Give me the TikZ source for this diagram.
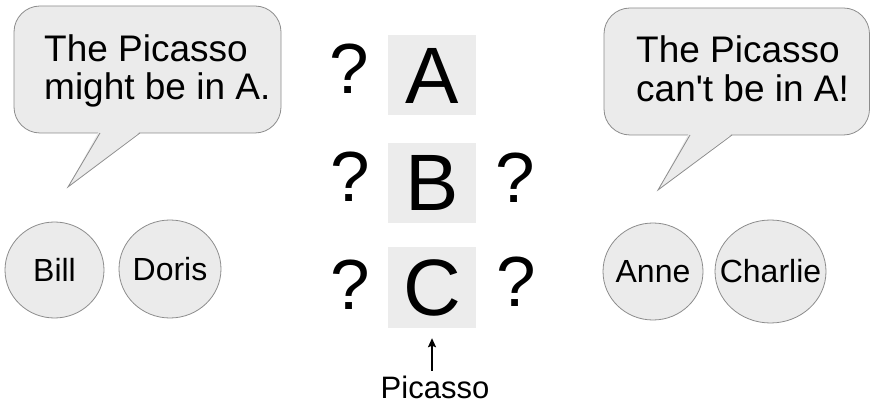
\documentclass[tikz,border=0pt]{standalone}
\usepackage{fontspec}
\setmainfont{Liberation Sans}[Ligatures=TeXOff]
\usetikzlibrary{shapes.geometric,arrows.meta}
\definecolor{bubblefill}{HTML}{EBEBEB}
\definecolor{edgegray}{HTML}{8C8C8C}
\definecolor{boxfill}{HTML}{ECECEC}
\newcommand{\pname}[1]{\makebox[0pt][c]{#1}}
\begin{document}
\begin{tikzpicture}[x=1pt,y=-1pt,
  bubble/.style={fill=bubblefill,draw=edgegray,line width=0.8pt,rounded corners=26pt},
  tailedge/.style={draw=edgegray,line width=0.8pt,line join=miter},
  saytext/.style={anchor=base west,inner sep=0pt,font=\fontsize{37}{38}\selectfont},
  letterbox/.style={fill=boxfill,minimum width=88pt,minimum height=80pt,inner sep=0pt,font=\fontsize{80}{80}\selectfont},
  qmark/.style={inner sep=0pt,font=\fontsize{71}{71}\selectfont},
  person/.style={ellipse,fill=bubblefill,draw=edgegray,line width=0.8pt,inner sep=0pt,font=\fontsize{32}{32}\selectfont},
  arr/.style={-{Stealth[length=9pt,width=8pt,inset=1.5pt]},line width=1.6pt}
]
\useasboundingbox (0,0) rectangle (872,403);

% left speech bubble
\draw[bubble] (14,6) rectangle (281,133);
\fill[bubblefill] (99,131) -- (68,187) -- (141,131) -- cycle;
\draw[tailedge] (100,133) -- (68,187) -- (140,133);
\node[saytext] (l1) at (44,61.5) {The Picasso};
\node[saytext] (l2) at (44,100) {might be in A.};

% right speech bubble
\draw[bubble] (604,8) rectangle (869.5,135);
\fill[bubblefill] (689,133) -- (658,190) -- (733,133) -- cycle;
\draw[tailedge] (690,135) -- (658,190) -- (732,135);
\node[saytext] (r1) at (636,63) {The Picasso};
\node[saytext] (r2) at (636,101.5) {can't be in A!};

% rooms
\node[letterbox] (boxA) at (432,75.5) {A};
\node[letterbox] (boxB) at (432,183) {B};
\node[letterbox] (boxC) at (432,287.5) {C};

% question marks
\node[qmark] (qAL) at (349.5,69) {?};
\node[qmark] (qBL) at (350,176.5) {?};
\node[qmark] (qBR) at (515,178) {?};
\node[qmark] (qCL) at (350,285) {?};
\node[qmark] (qCR) at (516,281.5) {?};

% people
\node[person,minimum width=99pt,minimum height=96pt] (bill) at (54.5,270) {\pname{Bill}};
\node[person,minimum width=102pt,minimum height=98pt] (doris) at (170,269) {\pname{Doris}};
\node[person,minimum width=100pt,minimum height=97pt] (anne) at (653,271.5) {\pname{Anne}};
\node[person,minimum width=111pt,minimum height=103pt] (charlie) at (770.5,271.5) {\pname{Charlie}};

% picasso label
\node[anchor=base,inner sep=0pt,font=\fontsize{31}{31}\selectfont] (picasso) at (435,398) {Picasso};
\draw[arr,shorten <=4.5pt,shorten >=10.5pt] (boxC.south |- picasso.north) -- (boxC.south);
\end{tikzpicture}
\end{document}
